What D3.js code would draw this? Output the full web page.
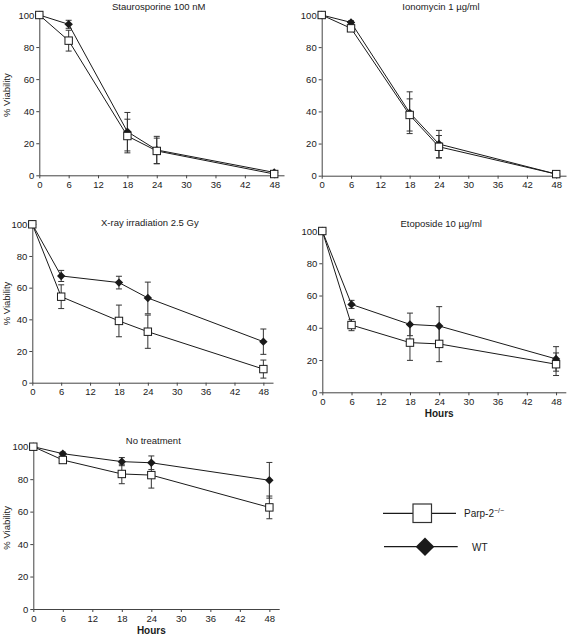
<!DOCTYPE html>
<html><head><meta charset="utf-8">
<script src="https://cdn.jsdelivr.net/npm/d3@7"></script>
<style>body{margin:0;background:#fff}svg{display:block;font-family:"Liberation Sans",Arial,sans-serif}</style>
</head><body><svg id="c" width="567" height="640"></svg>
<script>
const hours = [0, 6, 18, 24, 48];
const xTicks = [0, 6, 12, 18, 24, 30, 36, 42, 48];
const yTicks = [0, 20, 40, 60, 80, 100];
const titles = ["Staurosporine 100 nM", "Ionomycin 1 \u00b5g/ml", "X-ray irradiation 2.5 Gy", "Etoposide 10 \u00b5g/ml", "No treatment"];
const seriesNames = ["Parp-2", "WT"];

// Staurosporine
const stauParp = [100, 84, 24.5, 15.2, 0.8];
const stauParpErr = [0, 6.5, 10.5, 8, 0];
const stauWT = [100, 94.2, 27.2, 15.8, 1.8];
const stauWTErr = [0, 2.5, 12, 8.5, 0];
// Ionomycin
const ionoParp = [100, 91.7, 37.8, 18, 1];
const ionoParpErr = [0, 1.5, 10, 7, 0];
const ionoWT = [100, 95.4, 39.2, 19.7, 1];
const ionoWTErr = [0, 1, 13, 8.5, 0];
// X-ray
const xrayParp = [100, 54.3, 39, 32.2, 8.6];
const xrayParpErr = [0, 7.5, 10, 10.5, 5.7];
const xrayWT = [100, 67.4, 63.2, 53.5, 25.9];
const xrayWTErr = [0, 3.5, 4, 10, 8];
// Etoposide
const etoParp = [100, 41.7, 30.8, 30, 17.4];
const etoParpErr = [0, 3.5, 11, 11, 7];
const etoWT = [100, 54.5, 42.1, 41.1, 20.7];
const etoWTErr = [0, 2.5, 7, 12, 7.6];
// No treatment
const ntParp = [100, 91.8, 83.2, 82.5, 62.6];
const ntParpErr = [0, 1, 6, 8, 7];
const ntWT = [100, 95.7, 90.8, 90.1, 79.3];
const ntWTErr = [0, 1, 2.5, 4.2, 11];

const panelData = [
  [stauParp, stauParpErr, stauWT, stauWTErr],
  [ionoParp, ionoParpErr, ionoWT, ionoWTErr],
  [xrayParp, xrayParpErr, xrayWT, xrayWTErr],
  [etoParp, etoParpErr, etoWT, etoWTErr],
  [ntParp, ntParpErr, ntWT, ntWTErr]
];

// layout (pixel geometry)
const layout = [
  {x0: 39.3, x1: 284, yT: 15, yB: 175.3, ylab: true, hours: false, titleY: 10},
  {x0: 321.7, x1: 566, yT: 15, yB: 175.7, ylab: false, hours: false, titleY: 10},
  {x0: 32.3, x1: 273, yT: 224.3, yB: 382.7, ylab: true, hours: false, titleY: 226},
  {x0: 322.3, x1: 565.8, yT: 231, yB: 392.3, ylab: false, hours: true, titleY: 227},
  {x0: 33.3, x1: 279.2, yT: 446.7, yB: 609, ylab: true, hours: true, titleY: 444}
];

const svg = d3.select("#c");
const ink = "#1a1a1a";

layout.forEach((L, i) => {
  const [pv, pe, wv, we] = panelData[i];
  const x = d3.scaleLinear().domain([0, 50]).range([L.x0, L.x1]);
  const y = d3.scaleLinear().domain([0, 100]).range([L.yB, L.yT]);
  const g = svg.append("g");

  const xa = g.append("g").attr("transform", `translate(0,${L.yB})`)
    .call(d3.axisBottom(x).tickValues(xTicks).tickSize(3).tickSizeOuter(0).tickPadding(3));
  const ya = g.append("g").attr("transform", `translate(${L.x0},0)`)
    .call(d3.axisLeft(y).tickValues(yTicks).tickSize(3).tickSizeOuter(0).tickPadding(2));
  [xa, ya].forEach(a => {
    a.selectAll("path,line").attr("stroke", "#444").attr("stroke-width", 1);
    a.selectAll("text").attr("fill", ink).style("font-size", "9.5px").style("font-family", "'Liberation Sans',Arial,sans-serif");
  });

  g.append("text").attr("x", (L.x0 + x(48)) / 2 + 2).attr("y", L.titleY)
    .attr("text-anchor", "middle").style("font-size", "9.5px").attr("fill", ink).text(titles[i]);
  if (L.ylab) {
    g.append("text").attr("transform", `translate(10,${(L.yT + L.yB) / 2}) rotate(-90)`)
      .attr("text-anchor", "middle").style("font-size", "9.5px").attr("fill", ink).text("% Viability");
  }
  if (L.hours) {
    g.append("text").attr("x", x(24)).attr("y", L.yB + 25)
      .attr("text-anchor", "middle").style("font-size", "10px").style("font-weight", "bold").attr("fill", ink).text("Hours");
  }

  const line = d3.line().x(d => x(d[0])).y(d => y(d[1]));
  const series = [
    {v: wv, e: we, type: "wt"},
    {v: pv, e: pe, type: "parp"}
  ];
  series.forEach(s => {
    g.append("path").datum(hours.map((h, k) => [h, s.v[k]]))
      .attr("d", line).attr("fill", "none").attr("stroke", ink).attr("stroke-width", 1);
  });
  series.forEach(s => {
    hours.forEach((h, k) => {
      if (!s.e[k]) return;
      const cx = x(h), t = y(s.v[k] + s.e[k]), b = y(Math.max(0, s.v[k] - s.e[k]));
      g.append("line").attr("x1", cx).attr("x2", cx).attr("y1", t).attr("y2", b).attr("stroke", "#333").attr("stroke-width", 1);
      [t, b].forEach(yy => g.append("line").attr("x1", cx - 3).attr("x2", cx + 3).attr("y1", yy).attr("y2", yy).attr("stroke", "#333").attr("stroke-width", 1));
    });
  });
  hours.forEach((h, k) => {
    g.append("path").attr("d", "M0,-4.2L4.2,0L0,4.2L-4.2,0Z")
      .attr("transform", `translate(${x(h)},${y(wv[k])})`).attr("fill", ink);
  });
  hours.forEach((h, k) => {
    g.append("rect").attr("x", x(h) - 3.7).attr("y", y(pv[k]) - 3.7).attr("width", 7.4).attr("height", 7.4)
      .attr("fill", "#fff").attr("stroke", ink).attr("stroke-width", 1);
  });
});

// legend
const lg = svg.append("g");
lg.append("line").attr("x1", 383).attr("x2", 456).attr("y1", 513.3).attr("y2", 513.3).attr("stroke", ink).attr("stroke-width", 1.2);
lg.append("rect").attr("x", 413).attr("y", 504).attr("width", 18.5).attr("height", 18.5).attr("fill", "#fff").attr("stroke", "#333").attr("stroke-width", 1.2);
const t1 = lg.append("text").attr("x", 464).attr("y", 517).style("font-size", "10px").attr("fill", ink).text(seriesNames[0]);
t1.append("tspan").attr("dy", -4).style("font-size", "7px").text("\u2212/\u2212");
lg.append("line").attr("x1", 384).attr("x2", 457.7).attr("y1", 546.7).attr("y2", 546.7).attr("stroke", ink).attr("stroke-width", 1.2);
lg.append("path").attr("d", "M0,-9.3L9.3,0L0,9.3L-9.3,0Z").attr("transform", "translate(425,546.7)").attr("fill", ink);
lg.append("text").attr("x", 472).attr("y", 550.5).style("font-size", "10px").attr("fill", ink).text(seriesNames[1]);
</script></body></html>
